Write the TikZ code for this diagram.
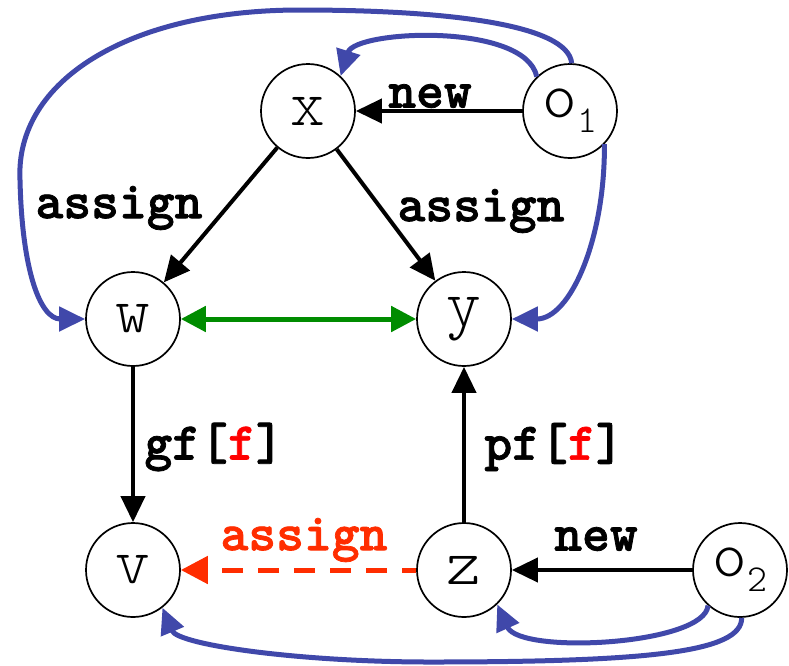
\documentclass[tikz,border=0pt]{standalone}
\usepackage{fontspec}
\newfontfamily\lblfont{lmmonolt10-bold.otf}[FakeBold=1.4]
\usetikzlibrary{arrows.meta}
\definecolor{edgeblue}{RGB}{64,72,170}
\definecolor{aliasgreen}{RGB}{0,140,0}
\definecolor{assignred}{RGB}{255,45,0}
\definecolor{fieldred}{RGB}{255,0,0}
\newcommand{\subidx}[1]{\raisebox{-15pt}{\fontsize{38}{38}\selectfont #1}}
\begin{document}
\begin{tikzpicture}[x=1pt,y=-1pt,
  var/.style={circle,draw,line width=1.7pt,minimum size=94pt,inner sep=0pt,
    font=\ttfamily\fontseries{l}\fontsize{66}{66}\selectfont},
  lbl/.style={font=\lblfont\fontsize{53}{53}\selectfont,inner sep=0pt},
  tip/.style={-{Triangle[length=26pt,width=24pt]}},
  flow/.style={tip,line width=4pt},
  pointsto/.style={tip,line width=5pt,draw=edgeblue},
  alias/.style={{Triangle[length=25pt,width=25pt]}-{Triangle[length=25pt,width=25pt]},
    line width=5pt,draw=aliasgreen},
  store/.style={-{Triangle[length=27pt,width=27pt]},line width=5pt,draw=assignred,
    dash pattern=on 21pt off 15pt,dash phase=7pt}]
\useasboundingbox (0,0) rectangle (789,665);

% variables and allocation sites
\node[var] (x)  at (308,111) {x};
\node[var] (o1) at (570,111) {o\subidx{1}};
\node[var] (w)  at (133,319) {w};
\node[var] (y)  at (464,319) {y};
\node[var] (v)  at (133,570) {v};
\node[var] (z)  at (464,570) {z};
\node[var] (o2) at (740,570) {o\subidx{2}};

% program edges
\draw[flow] (o1) -- (x);
\draw[flow] (x) -- (w);
\draw[flow] (x) -- (y);
\draw[flow] (w) -- (v);
\draw[flow] (z) -- (y);
\draw[flow] (o2) -- (z);
\draw[store] (z) -- (v);
\draw[alias] (w) -- (y);

% edge labels
\node[lbl] (lnew1) at (430,96) {new};
\node[lbl] (lasg1) at (119,208) {assign};
\node[lbl] (lasg2) at (481,211) {assign};
\node[lbl] (lgf)   at (214,447) {gf[{\color{fieldred}f}]};
\node[lbl] (lpf)   at (554,447) {pf[{\color{fieldred}f}]};
\node[lbl,text=assignred] (lasg3) at (304,540) {assign};
\node[lbl] (lnew2) at (596,539) {new};

% points-to edges
\draw[pointsto] (o1.134) .. controls (525,22) and (355,30) .. (x.47);
\draw[pointsto] (o1.88) .. controls (568,25) and (450,10) .. (300,10)
  .. controls (130,10) and (15,80) .. (20,180)
  .. controls (22,270) and (40,319) .. (w.west);
\draw[pointsto] (o1.-44) .. controls (605,240) and (570,319) .. (y.east);
\draw[pointsto] (o2.-132) .. controls (705,645) and (520,655) .. (z.-46);
\draw[pointsto] (o2.-88) .. controls (742,652) and (650,662) .. (430,662)
  .. controls (300,662) and (178,645) .. (v.-52);
\end{tikzpicture}
\end{document}
